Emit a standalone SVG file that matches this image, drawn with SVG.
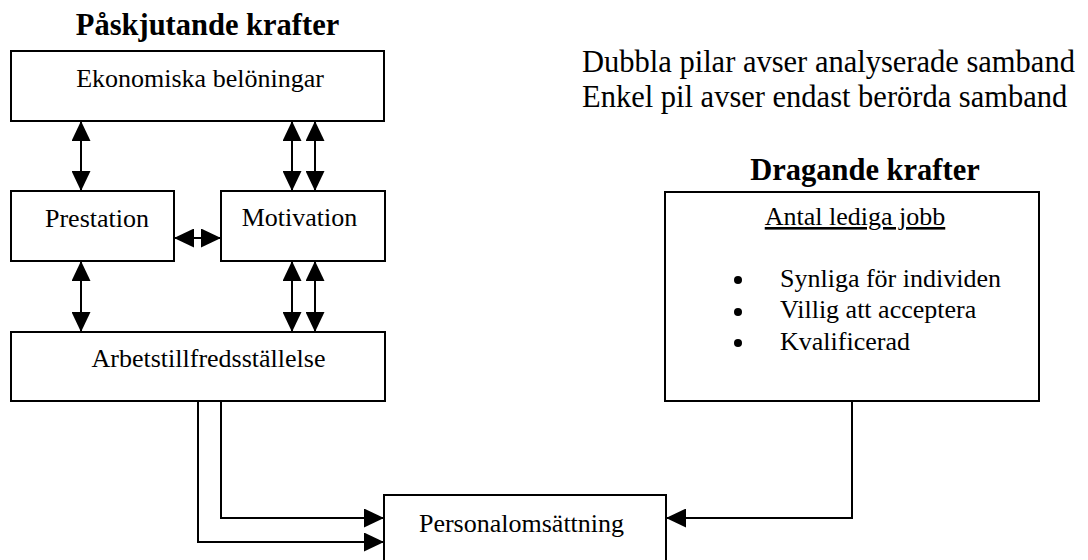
<svg xmlns="http://www.w3.org/2000/svg" width="1088" height="560" viewBox="0 0 1088 560">
<style>
.box{fill:#fff;stroke:#000;stroke-width:2}
.t{font-family:"Liberation Serif","Times New Roman",serif;font-size:26px;fill:#000}
.h{font-family:"Liberation Serif","Times New Roman",serif;font-size:30.5px;font-weight:bold;fill:#000}
.lg{font-family:"Liberation Serif","Times New Roman",serif;font-size:30.5px;fill:#000}
.c{fill:none;stroke:#000;stroke-width:2}
</style>
<defs>
<marker id="ah" markerUnits="userSpaceOnUse" markerWidth="20" markerHeight="19" refX="20" refY="9.5" orient="auto-start-reverse" viewBox="0 0 20 19">
<path d="M0,0 L20,9.5 L0,19 z" fill="#000"/>
</marker>
</defs>
<rect width="1088" height="560" fill="#fff"/>
<text class="h" x="207.5" y="35" text-anchor="middle">Påskjutande krafter</text>
<text class="h" x="865" y="180" text-anchor="middle">Dragande krafter</text>
<g id="legend">
<text class="lg" x="582" y="72">Dubbla pilar avser analyserade samband</text>
<text class="lg" x="582" y="107">Enkel pil avser endast berörda samband</text>
</g>
<g id="ekonomiska">
<rect class="box" x="11" y="51" width="373" height="70"/>
<text class="t" x="200" y="87" text-anchor="middle">Ekonomiska belöningar</text>
</g>
<g id="prestation">
<rect class="box" x="11" y="191" width="163" height="70"/>
<text class="t" x="97" y="227" text-anchor="middle">Prestation</text>
</g>
<g id="motivation">
<rect class="box" x="221" y="191" width="164" height="70"/>
<text class="t" x="299.5" y="226" text-anchor="middle">Motivation</text>
</g>
<g id="arbetstillfredsstallelse">
<rect class="box" x="11" y="332" width="374" height="69"/>
<text class="t" x="208.5" y="367" text-anchor="middle">Arbetstillfredsställelse</text>
</g>
<g id="personalomsattning">
<rect class="box" x="384" y="495" width="282" height="80"/>
<text class="t" x="521.5" y="532" text-anchor="middle">Personalomsättning</text>
</g>
<g id="dragande">
<rect class="box" x="665" y="192" width="374" height="209"/>
<text class="t" x="855" y="225" text-anchor="middle" text-decoration="underline">Antal lediga jobb</text>
<circle cx="738" cy="280" r="4"/>
<circle cx="738" cy="312" r="4"/>
<circle cx="738" cy="343" r="4"/>
<text class="t" x="780" y="287">Synliga för individen</text>
<text class="t" x="780" y="318">Villig att acceptera</text>
<text class="t" x="780" y="350">Kvalificerad</text>
</g>
<g id="connectors">
<line class="c" x1="81" y1="121" x2="81" y2="191" marker-start="url(#ah)" marker-end="url(#ah)"/>
<line class="c" x1="292" y1="121" x2="292" y2="191" marker-start="url(#ah)" marker-end="url(#ah)"/>
<line class="c" x1="315" y1="121" x2="315" y2="191" marker-start="url(#ah)" marker-end="url(#ah)"/>
<line class="c" x1="81" y1="261" x2="81" y2="332" marker-start="url(#ah)" marker-end="url(#ah)"/>
<line class="c" x1="292" y1="261" x2="292" y2="332" marker-start="url(#ah)" marker-end="url(#ah)"/>
<line class="c" x1="315" y1="261" x2="315" y2="332" marker-start="url(#ah)" marker-end="url(#ah)"/>
<line class="c" x1="174" y1="238" x2="221" y2="238" marker-start="url(#ah)" marker-end="url(#ah)"/>
<polyline class="c" points="221,401 221,518 384,518" marker-end="url(#ah)"/>
<polyline class="c" points="198,401 198,542 384,542" marker-end="url(#ah)"/>
<polyline class="c" points="852,401 852,518 666,518" marker-end="url(#ah)"/>
</g>
</svg>
